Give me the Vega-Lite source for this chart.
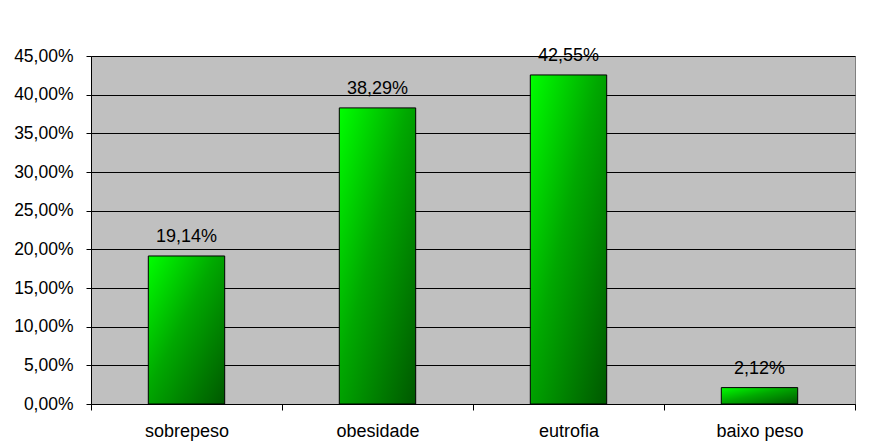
{
  "$schema": "https://vega.github.io/schema/vega-lite/v6.json",
  "autosize": "none",
  "width": 764,
  "height": 348,
  "padding": {"left": 91, "top": 56, "right": 15, "bottom": 41},
  "background": "white",
  "config": {
    "locale": {"number": {"decimal": ",", "thousands": ".", "grouping": [3], "currency": ["", " €"]}},
    "font": "Liberation Sans",
    "view": {"fill": "#C0C0C0", "stroke": "#808080", "strokeWidth": 1}
  },
  "data": {
    "values": [
      {"categoria": "sobrepeso", "valor": 0.1914},
      {"categoria": "obesidade", "valor": 0.3829},
      {"categoria": "eutrofia", "valor": 0.4255},
      {"categoria": "baixo peso", "valor": 0.0212}
    ]
  },
  "encoding": {
    "x": {
      "field": "categoria",
      "type": "nominal",
      "sort": null,
      "scale": {"paddingInner": 0, "paddingOuter": 0},
      "axis": {
        "title": null,
        "labelAngle": 0,
        "labelFontSize": 18,
        "labelColor": "black",
        "labelPadding": 12,
        "labelBaseline": "top",
        "tickBand": "extent",
        "tickSize": 6,
        "tickColor": "black",
        "domainColor": "black",
        "domainWidth": 1,
        "grid": false
      }
    },
    "y": {
      "field": "valor",
      "type": "quantitative",
      "scale": {"domain": [0, 0.45], "nice": false},
      "axis": {
        "title": null,
        "format": ".2%",
        "values": [0, 0.05, 0.1, 0.15, 0.2, 0.25, 0.3, 0.35, 0.4, 0.45],
        "labelFontSize": 17.5,
        "labelColor": "black",
        "labelPadding": 13,
        "tickSize": 5,
        "tickColor": "black",
        "domainColor": "black",
        "grid": true,
        "gridColor": "#000000",
        "gridOpacity": 1,
        "gridWidth": 1
      }
    }
  },
  "layer": [
    {
      "mark": {
        "type": "bar",
        "width": {"band": 0.4},
        "stroke": "black",
        "strokeWidth": 1,
        "color": {
          "gradient": "linear",
          "x1": 0, "y1": 0, "x2": 1, "y2": 1,
          "stops": [
            {"offset": 0, "color": "#00FF00"},
            {"offset": 0.45, "color": "#00A800"},
            {"offset": 1, "color": "#005800"}
          ]
        }
      }
    },
    {
      "mark": {"type": "text", "baseline": "alphabetic", "dy": -14, "fontSize": 18, "color": "black"},
      "encoding": {
        "text": {"field": "valor", "type": "quantitative", "format": ".2%"}
      }
    }
  ]
}
